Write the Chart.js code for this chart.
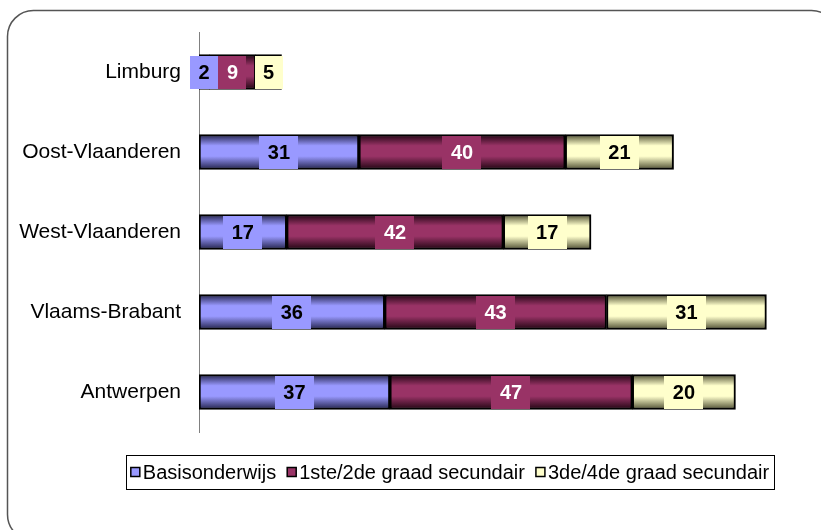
<!DOCTYPE html>
<html>
<head>
<meta charset="utf-8">
<script src="https://cdn.jsdelivr.net/npm/chart.js@4"></script>
<style>
  html, body { margin: 0; padding: 0; background: #fff; }
  #wrap { width: 821px; height: 530px; position: relative; }
</style>
</head>
<body>
<div id="wrap"><canvas id="myChart" width="821" height="530"></canvas></div>
<script>
const provinces = ['Limburg', 'Oost-Vlaanderen', 'West-Vlaanderen', 'Vlaams-Brabant', 'Antwerpen'];
const seriesNames = ['Basisonderwijs', '1ste/2de graad secundair', '3de/4de graad secundair'];
const basis = [2, 31, 17, 36, 37];
const secundair12 = [9, 40, 42, 43, 47];
const secundair34 = [5, 21, 17, 31, 20];

const baseColors = ['#9999FF', '#993366', '#FFFFCC'];
const edgeColors = ['#22224a', '#200512', '#4e4e32'];
const textColors = ['#000000', '#FFFFFF', '#000000'];
const FONT = "'Liberation Sans', Arial, sans-serif";

// vertical "cylinder" gradient per bar
function barFill(context) {
    const chart = context.chart;
    const i = context.datasetIndex;
    const yScale = chart.scales.y;
    if (!chart.chartArea || !yScale) return baseColors[i];
    const y = yScale.getPixelForValue(context.dataIndex);
    const g = chart.ctx.createLinearGradient(0, y - 17.5, 0, y + 17.5);
    g.addColorStop(0, edgeColors[i]);
    g.addColorStop(0.32, baseColors[i]);
    g.addColorStop(0.62, baseColors[i]);
    g.addColorStop(1, edgeColors[i]);
    return g;
}

const frame = {
    id: 'frame',
    beforeDraw(chart) {
        const ctx = chart.ctx;
        ctx.save();
        ctx.strokeStyle = '#555';
        ctx.lineWidth = 1.5;
        ctx.beginPath();
        ctx.roundRect(7.5, 10.5, 830, 530, 26);
        ctx.stroke();
        ctx.restore();
    }
};

const valueBoxes = {
    id: 'valueBoxes',
    afterDatasetsDraw(chart) {
        const ctx = chart.ctx;
        ctx.save();
        ctx.font = 'bold 20px ' + FONT;
        ctx.textAlign = 'center';
        ctx.textBaseline = 'middle';
        chart.data.datasets.forEach((ds, di) => {
            chart.getDatasetMeta(di).data.forEach((el, idx) => {
                const txt = String(ds.data[idx]);
                const cx = (el.x + el.base) / 2;
                const w = ctx.measureText(txt).width + 17;
                const h = el.height - 2;
                ctx.fillStyle = baseColors[di];
                ctx.fillRect(Math.round(cx - w / 2), Math.round(el.y - h / 2), Math.round(w), Math.round(h));
                ctx.fillStyle = textColors[di];
                ctx.fillText(txt, cx, el.y + 1);
            });
        });
        ctx.restore();
    }
};

const legendBox = {
    id: 'legendBox',
    afterDraw(chart) {
        const ctx = chart.ctx;
        ctx.save();
        ctx.font = '20px ' + FONT;
        ctx.textBaseline = 'middle';
        const marker = 9, gapM = 3, gapItem = 11, pad = 5;
        let total = pad * 2;
        seriesNames.forEach((n, i) => {
            total += marker + gapM + ctx.measureText(n).width + (i < seriesNames.length - 1 ? gapItem : 0);
        });
        const cx = 450, top = 455, h = 34;
        let x = cx - total / 2;
        ctx.strokeStyle = '#000';
        ctx.lineWidth = 1;
        ctx.strokeRect(Math.round(x) + 0.5, top + 0.5, Math.round(total), h);
        x += pad;
        const my = top + h / 2;
        seriesNames.forEach((n, i) => {
            ctx.fillStyle = baseColors[i];
            ctx.fillRect(x, my - marker / 2, marker, marker);
            ctx.lineWidth = 1.5;
            ctx.strokeRect(x, my - marker / 2, marker, marker);
            x += marker + gapM;
            ctx.fillStyle = '#000';
            ctx.fillText(n, x, my + 1);
            x += ctx.measureText(n).width + gapItem;
        });
        ctx.restore();
    }
};

const datasets = [basis, secundair12, secundair34].map((vals, i) => ({
    label: seriesNames[i],
    data: vals,
    backgroundColor: barFill,
    borderColor: '#000',
    borderWidth: 2,
    borderSkipped: false,
    barThickness: 35
}));

new Chart(document.getElementById('myChart'), {
    type: 'bar',
    data: { labels: provinces, datasets: datasets },
    options: {
        indexAxis: 'y',
        responsive: false,
        animation: false,
        layout: { padding: { left: 0, right: 3, top: 32, bottom: 98 } },
        plugins: {
            legend: { display: false },
            tooltip: { enabled: false }
        },
        scales: {
            x: {
                stacked: true,
                display: false,
                min: 0,
                max: 120
            },
            y: {
                stacked: true,
                grid: { display: false, drawTicks: false },
                border: { display: true, color: '#808080', width: 1 },
                ticks: {
                    color: '#000',
                    padding: 18,
                    font: { family: FONT, size: 21 }
                },
                afterFit(scale) { scale.width = 199; }
            }
        }
    },
    plugins: [frame, valueBoxes, legendBox]
});
</script>
</body>
</html>
